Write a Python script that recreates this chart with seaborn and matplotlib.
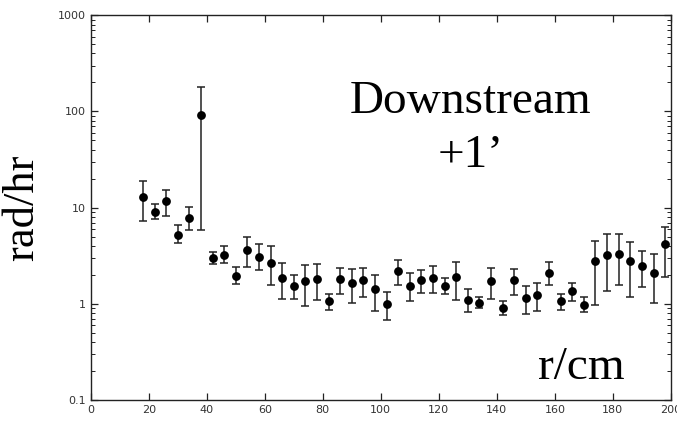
import numpy as np
import pandas as pd
import matplotlib
matplotlib.use("Agg")
import matplotlib.pyplot as plt
import seaborn as sns

# radius (cm)
r_cm = [18, 22, 26, 30, 34, 38, 42, 46, 50, 54, 58, 62, 66, 70, 74, 78,
        82, 86, 90, 94, 98, 102, 106, 110, 114, 118, 122, 126, 130, 134,
        138, 142, 146, 150, 154, 158, 162, 166, 170, 174, 178, 182, 186,
        190, 194, 198]

# dose rate (rad/hr)
dose = [12.8, 9.1, 11.6, 5.2, 7.75, 92.0, 3.0, 3.24, 1.96, 3.6, 3.1, 2.67,
        1.86, 1.55, 1.72, 1.81, 1.06, 1.8, 1.66, 1.76, 1.42, 1.0, 2.18, 1.53,
        1.76, 1.86, 1.55, 1.9, 1.09, 1.03, 1.72, 0.9, 1.76, 1.15, 1.25, 2.11,
        1.07, 1.36, 0.98, 2.77, 3.24, 3.31, 2.77, 2.49, 2.11, 4.14]

dose_hi = [18.7, 10.8, 15.2, 6.6, 10.1, 181.0, 3.45, 3.95, 2.4, 4.9, 4.2, 3.95,
           2.63, 1.99, 2.53, 2.59, 1.27, 2.37, 2.32, 2.37, 1.98, 1.33, 2.87, 2.07,
           2.26, 2.45, 1.87, 2.72, 1.41, 1.18, 2.37, 1.07, 2.32, 1.55, 1.65, 2.72,
           1.27, 1.65, 1.17, 4.51, 5.37, 5.37, 4.4, 3.56, 3.28, 6.35]

dose_lo = [7.2, 7.7, 8.1, 4.3, 5.85, 5.8, 2.6, 2.65, 1.61, 2.4, 2.25, 1.56,
           1.13, 1.13, 0.94, 1.1, 0.87, 1.26, 1.02, 1.19, 0.85, 0.68, 1.56, 1.06,
           1.3, 1.3, 1.26, 1.1, 0.83, 0.91, 1.13, 0.76, 1.23, 0.79, 0.85, 1.57,
           0.87, 1.08, 0.83, 0.98, 1.37, 1.56, 1.17, 1.49, 1.02, 1.89]

df = pd.DataFrame({"r": r_cm, "dose": dose, "hi": dose_hi, "lo": dose_lo})

sns.set_style("ticks")
plt.rcParams["font.family"] = ["DejaVu Sans"]

fig = plt.figure(figsize=(6.77, 4.22), dpi=100)
ax = fig.add_axes([0.134, 0.052, 0.857, 0.912])

# error bars first, then the points on top
yerr = np.array([df["dose"] - df["lo"], df["hi"] - df["dose"]])
ax.errorbar(df["r"], df["dose"], yerr=yerr, fmt="none", ecolor="#222222",
            elinewidth=1.1, capsize=3, capthick=1.1, zorder=2)
sns.scatterplot(data=df, x="r", y="dose", ax=ax, color="black", s=40,
                edgecolor="black", linewidth=0, zorder=3)

ax.set_yscale("log")
ax.set_xlim(0, 200)
ax.set_ylim(0.1, 1000)
ax.set_xticks(range(0, 201, 20))
ax.set_yticks([0.1, 1, 10, 100, 1000])
ax.set_yticklabels(["0.1", "1", "10", "100", "1000"])
ax.tick_params(which="both", direction="in", top=True, right=True,
               labelsize=8, labelcolor="#333333", color="#222222")
ax.tick_params(which="major", length=5, width=0.9)
ax.tick_params(which="minor", length=3, width=0.7)
ax.tick_params(axis="x", which="minor", top=False, bottom=False)
for s in ax.spines.values():
    s.set_linewidth(1.0)
    s.set_color("#222222")

ax.set_xlabel("")
ax.set_ylabel("rad/hr", family="Liberation Serif", fontsize=32, labelpad=11,
              color="black")

big = dict(transform=ax.transAxes, ha="center", va="center",
           family="Liberation Serif", fontsize=34, color="black")
ax.text(0.655, 0.775, "Downstream", **big)
ax.text(0.655, 0.635, "+1\u2019", **big)
ax.text(0.846, 0.085, "r/cm", **big)

fig.savefig("out.png", dpi=100)
plt.close(fig)
